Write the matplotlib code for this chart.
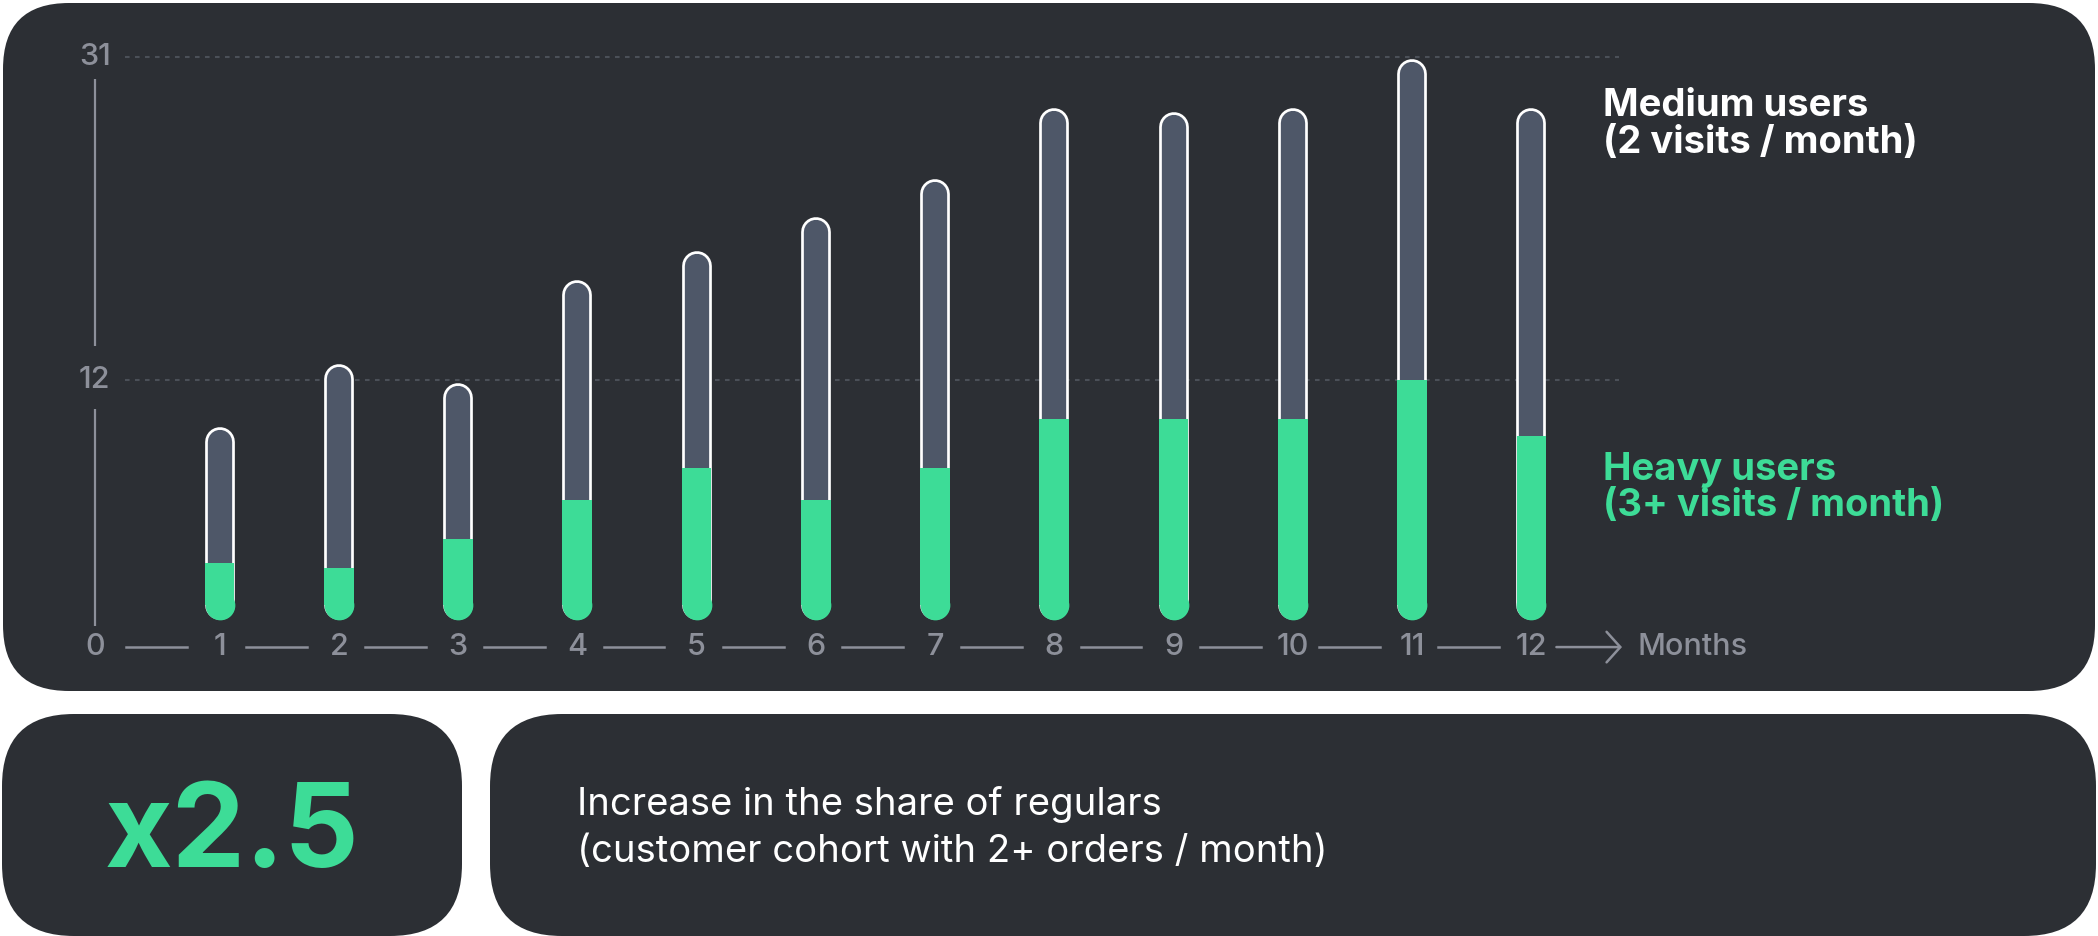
import matplotlib.pyplot as plt
from matplotlib.patches import FancyBboxPatch

plt.rcParams['font.family'] = ['Inter', 'DejaVu Sans']

# data
months = list(range(1, 13))
total_users = [9.2, 12.9, 11.8, 17.9, 19.6, 21.6, 23.8, 28.0, 27.8, 28.0, 30.9, 28.0]
heavy_users = [1.2, 0.9, 2.6, 4.9, 6.8, 4.9, 6.8, 9.7, 9.7, 9.7, 12.0, 8.7]
y_ticks = [12, 31]
x_labels = [str(m) for m in range(0, 13)]

# colours
WHITE_BG = 'white'
PANEL = '#2c2f34'
BAR = '#4e5768'
GREEN = '#3ddc97'
GRAY = '#8d909a'
GRID = '#4b5058'

# canvas in pixels
W, H = 2098, 936
fig = plt.figure(figsize=(W / 100, H / 100), dpi=100, facecolor=WHITE_BG)

# background axes in pixel units for the rounded panels
bg = fig.add_axes([0, 0, 1, 1])
bg.set_xlim(0, W)
bg.set_ylim(H, 0)
bg.axis('off')
for (x0, y0, w, h, r) in [(3, 3, 2092, 688, 66), (2, 714, 460, 222, 72), (490, 714, 1606, 222, 72)]:
    bg.add_patch(FancyBboxPatch((x0, y0), w, h, boxstyle=f'round,pad=0,rounding_size={r}',
                                facecolor=PANEL, edgecolor='none'))

# chart axes: month spacing and value scale
X_PX1, X_STEP = 219.5, 119.26      # pixel x of month 1, pixels per month
Y_PX12, Y_STEP = 379.8, 16.97      # pixel y of value 12, pixels per unit
ax = fig.add_axes([0, 0, 1, 1])
ax.set_xlim(1 - X_PX1 / X_STEP, 1 + (W - X_PX1) / X_STEP)
ax.set_ylim(12 - (H - Y_PX12) / Y_STEP, 12 + Y_PX12 / Y_STEP)
ax.set_facecolor('none')
ax.axis('off')

FLOOR = -2.14          # bars float a little above the month axis
X_AXIS = -0.045
Y_LAB = -3.75
BAR_PX, STROKE_PX = 29.7, 2.7
r = BAR_PX / 2 / Y_STEP
pt = 72 / 100

# medium users: grey capsule with white outline
for x, tot in zip(months, total_users):
    ax.plot([x, x], [FLOOR + r, tot - r], color='white', lw=BAR_PX * pt,
            solid_capstyle='round', zorder=3)
    ax.plot([x, x], [FLOOR + r, tot - r], color=BAR, lw=(BAR_PX - 2 * STROKE_PX) * pt,
            solid_capstyle='round', zorder=4)

# heavy users: green with rounded bottom and flat top
ax.bar(months, [h - (FLOOR + r) for h in heavy_users], bottom=FLOOR + r,
       width=BAR_PX / X_STEP, color=GREEN, linewidth=0, zorder=5)
ax.scatter(months, [FLOOR + r] * len(months), s=(BAR_PX * pt) ** 2, color=GREEN,
           linewidths=0, zorder=5)

# dotted gridlines
for v in y_ticks:
    ax.plot([0.21, 12.735], [v, v], color=GRID, lw=1.5, dashes=(2.2, 2.6), zorder=1)

# y axis with labels
for v in y_ticks:
    ax.text(X_AXIS, v, str(v), ha='center', va='center', color=GRAY, fontsize=22,
            fontweight='medium')
for y0, y1 in [(29.7, 14.0), (10.3, -2.5)]:
    ax.plot([X_AXIS, X_AXIS], [y0, y1], color=GRAY, lw=1.6, solid_capstyle='butt')

# x axis labels joined by dashes
for i, lab in enumerate(x_labels):
    xpos = X_AXIS if i == 0 else i
    ax.text(xpos, Y_LAB, lab, ha='center', va='center', color=GRAY, fontsize=22,
            fontweight='medium')
for k in range(12):
    ax.plot([k + 0.22, k + 0.73], [Y_LAB, Y_LAB], color=GRAY, lw=1.8)
ax.annotate('', xy=(12.76, Y_LAB), xytext=(12.21, Y_LAB),
            arrowprops=dict(arrowstyle='->,head_length=0.45,head_width=0.5', color=GRAY,
                            lw=1.8, mutation_scale=22, shrinkA=0, shrinkB=0))
ax.text(12.89, Y_LAB, 'Months', ha='left', va='center', color=GRAY, fontsize=22,
        fontweight='medium')

# legend labels
bg.text(1603, 116.5, 'Medium users', color='white', fontsize=27.5, fontweight='bold', va='baseline')
bg.text(1603, 152.7, '(2 visits / month)', color='white', fontsize=27.5, fontweight='bold', va='baseline')
bg.text(1603, 479.7, 'Heavy users', color=GREEN, fontsize=27.5, fontweight='bold', va='baseline')
bg.text(1603, 515.8, '(3+ visits / month)', color=GREEN, fontsize=27.5, fontweight='bold', va='baseline')

# bottom cards
bg.text(232, 867, 'x2.5', color=GREEN, fontsize=84, fontweight='bold', ha='center', va='baseline')
bg.text(577, 815, 'Increase in the share of regulars', color='white', fontsize=27.5, va='baseline')
bg.text(577, 862, '(customer cohort with 2+ orders / month)', color='white', fontsize=27.5, va='baseline')

fig.savefig('out.png', dpi=100, facecolor=WHITE_BG)
